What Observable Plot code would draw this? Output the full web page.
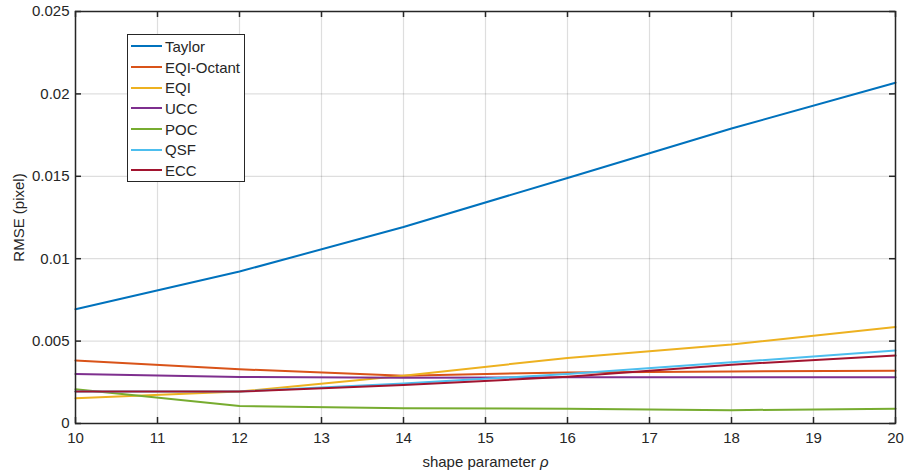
<!DOCTYPE html>
<html>
<head>
<meta charset="utf-8">
<script src="https://cdn.jsdelivr.net/npm/d3@7"></script>
<script src="https://cdn.jsdelivr.net/npm/@observablehq/plot@0.6"></script>
<style>
  body { margin: 0; background: #fff; font-family: "Liberation Sans", Arial, sans-serif; }
  #wrap { position: relative; width: 905px; height: 473px; }
  #legend { position: absolute; left: 127px; top: 34px; width: 116px; height: 145px;
            border: 1.5px solid #262626; background: #fff; padding-top: 1px; box-sizing: content-box; }
  .row { display: flex; align-items: center; height: 20.7px; font-size: 15px; color: #262626; }
  .sw { width: 31px; height: 0; border-top: 2px solid; margin-left: 3px; margin-right: 3px; }
</style>
</head>
<body>
<div id="wrap"></div>
<script>
const rho = [10, 12, 14, 16, 18, 20];
const seriesNames = ["Taylor", "EQI-Octant", "EQI", "UCC", "POC", "QSF", "ECC"];
const seriesColors = ["#0072BD", "#D95319", "#EDB120", "#7E2F8E", "#77AC30", "#4DBEEE", "#A2142F"];
const taylor    = [0.00693, 0.00922, 0.01192, 0.01490, 0.01790, 0.02068];
const eqiOctant = [0.00382, 0.00329, 0.00290, 0.00310, 0.00316, 0.00320];
const eqi       = [0.00153, 0.00194, 0.00290, 0.00398, 0.00480, 0.00586];
const ucc       = [0.00300, 0.00282, 0.00278, 0.00280, 0.00280, 0.00280];
const poc       = [0.00208, 0.00106, 0.00092, 0.00090, 0.00081, 0.00090];
const qsf       = [0.00194, 0.00194, 0.00243, 0.00300, 0.00371, 0.00443];
const ecc       = [0.00194, 0.00194, 0.00233, 0.00284, 0.00357, 0.00412];
const xTicks = [10, 11, 12, 13, 14, 15, 16, 17, 18, 19, 20];
const yTicks = [0, 0.005, 0.01, 0.015, 0.02, 0.025];
const yTickLabels = ["0", "0.005", "0.01", "0.015", "0.02", "0.025"];

const valuesBySeries = [taylor, eqiOctant, eqi, ucc, poc, qsf, ecc];
const table = [];
seriesNames.forEach((name, i) => {
  rho.forEach((r, j) => table.push({series: name, rho: r, rmse: valuesBySeries[i][j]}));
});

const axisColor = "#262626";
const W = 905, H = 473, mL = 75, mR = 10, mT = 11, mB = 50;
const innerW = W - mL - mR, innerH = H - mT - mB, tickLen = 6;
const chart = Plot.plot({
  width: W,
  height: H,
  marginLeft: mL,
  marginRight: mR,
  marginTop: mT,
  marginBottom: mB,
  style: {fontFamily: "'Liberation Sans', Arial, sans-serif", fontSize: "15px", color: axisColor, background: "#fff"},
  x: {domain: [10, 20]},
  y: {domain: [0, 0.025]},
  color: {domain: seriesNames, range: seriesColors},
  marks: [
    Plot.gridX(xTicks, {stroke: "#000", strokeOpacity: 0.13, strokeWidth: 1.2}),
    Plot.gridY(yTicks, {stroke: "#000", strokeOpacity: 0.13, strokeWidth: 1.2}),
    Plot.line(table, {x: "rho", y: "rmse", z: "series", stroke: "series", strokeWidth: 2, curve: "linear"}),
    Plot.frame({stroke: axisColor, strokeWidth: 1.5}),
    Plot.tickX(xTicks, {x: d => d, insetTop: innerH - tickLen, stroke: axisColor, strokeWidth: 1.5}),
    Plot.tickX(xTicks, {x: d => d, insetBottom: innerH - tickLen, stroke: axisColor, strokeWidth: 1.5}),
    Plot.tickY(yTicks, {y: d => d, insetRight: innerW - tickLen, stroke: axisColor, strokeWidth: 1.5}),
    Plot.tickY(yTicks, {y: d => d, insetLeft: innerW - tickLen, stroke: axisColor, strokeWidth: 1.5}),
    Plot.axisX(xTicks, {anchor: "bottom", tickSize: 0, tickPadding: 9, tickFormat: d => String(d),
      label: "shape parameter ρ", labelAnchor: "center", labelArrow: "none", labelOffset: 43, fill: axisColor}),
    Plot.axisY(yTicks, {anchor: "left", tickSize: 0, tickPadding: 6, tickFormat: (d, i) => yTickLabels[i],
      label: "RMSE (pixel)", labelAnchor: "center", labelArrow: "none", labelOffset: 62, fill: axisColor})
  ]
});

document.getElementById("wrap").appendChild(chart);

// italic rho in x-axis label
chart.querySelectorAll("text").forEach(t => {
  if (t.textContent === "shape parameter ρ") {
    t.textContent = "";
    const a = document.createElementNS("http://www.w3.org/2000/svg", "tspan");
    a.textContent = "shape parameter ";
    const b = document.createElementNS("http://www.w3.org/2000/svg", "tspan");
    b.textContent = "ρ";
    b.setAttribute("font-style", "italic");
    t.appendChild(a); t.appendChild(b);
  }
});

// legend
const legend = document.createElement("div");
legend.id = "legend";
seriesNames.forEach((name, i) => {
  const row = document.createElement("div");
  row.className = "row";
  const sw = document.createElement("span");
  sw.className = "sw";
  sw.style.borderTopColor = seriesColors[i];
  const lab = document.createElement("span");
  lab.textContent = name;
  row.appendChild(sw); row.appendChild(lab);
  legend.appendChild(row);
});
document.getElementById("wrap").appendChild(legend);
</script>
</body>
</html>
